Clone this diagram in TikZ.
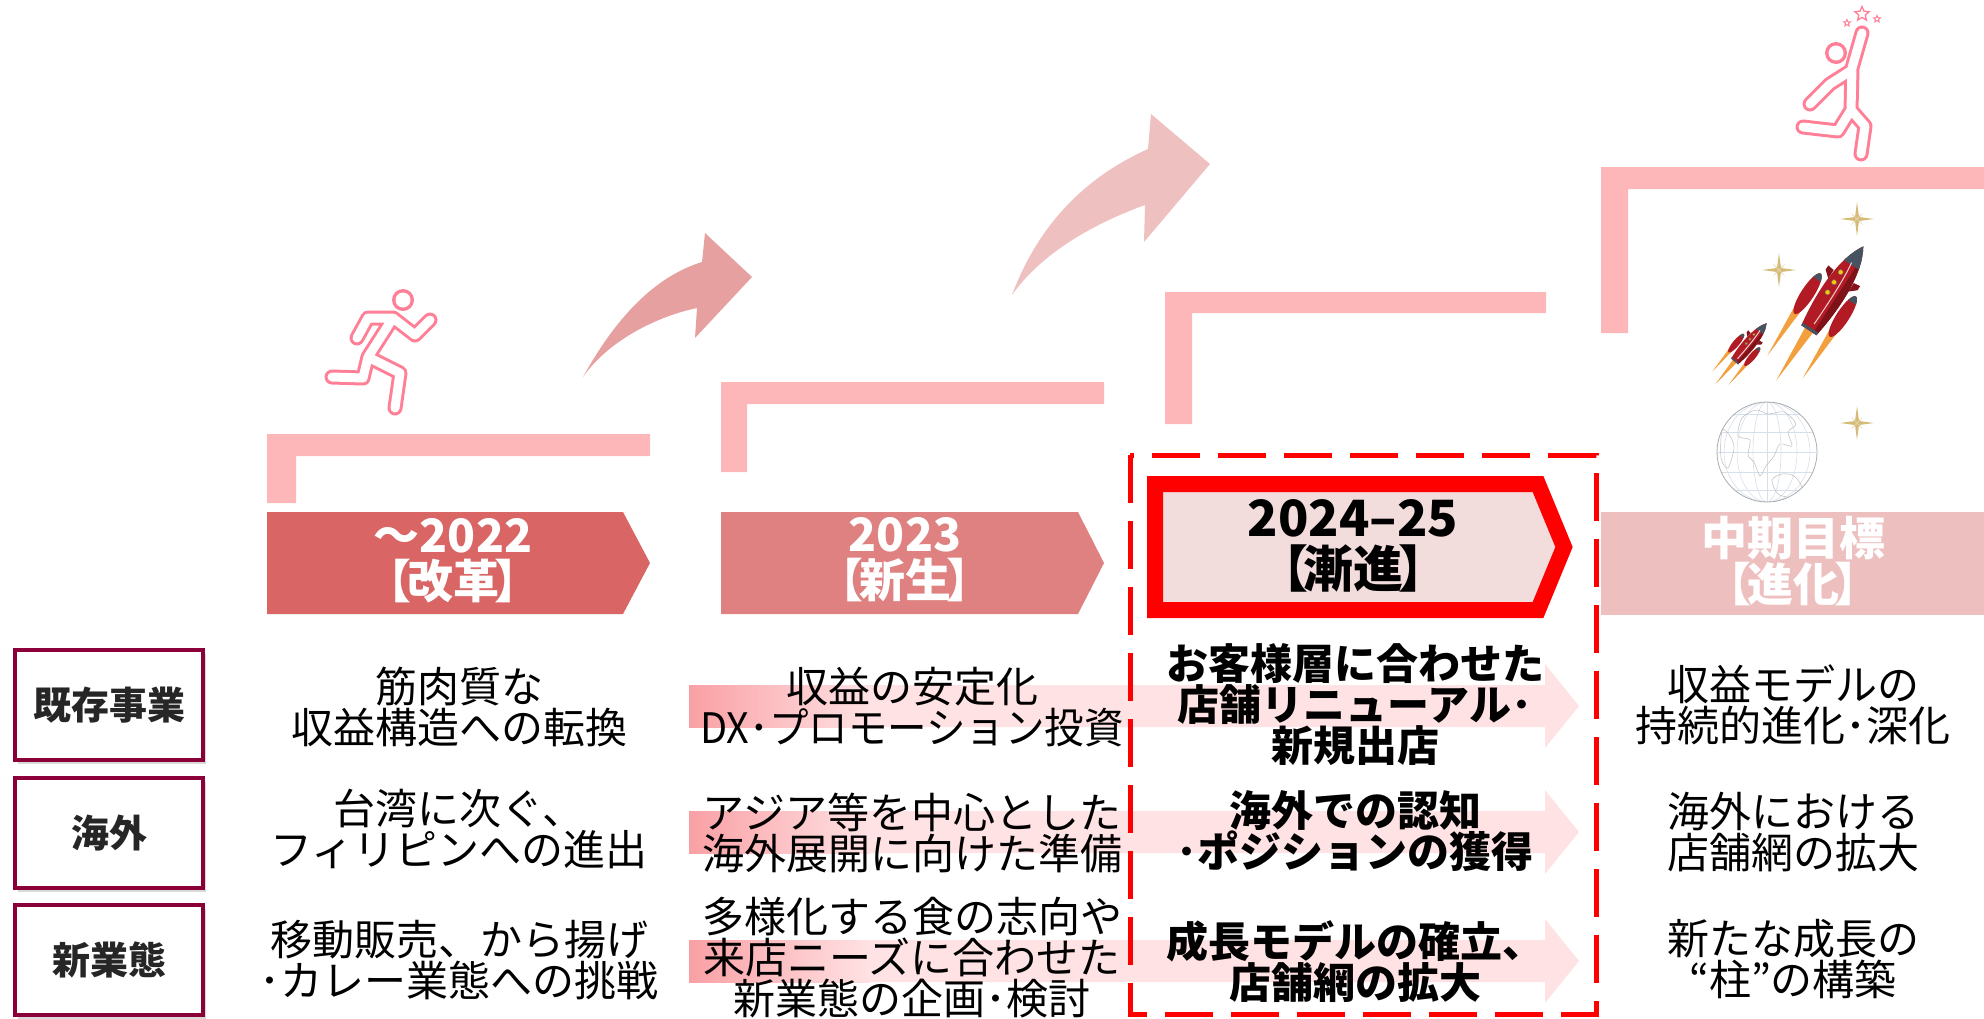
\documentclass[tikz,border=0pt]{standalone}
\usepackage{fontspec}
\setmainfont{Noto Sans CJK JP}
\usetikzlibrary{shadows,shapes.geometric}

\definecolor{escalon}{RGB}{253,183,184}
\definecolor{faseA}{RGB}{217,101,101}
\definecolor{faseB}{RGB}{223,129,129}
\definecolor{faseC}{RGB}{242,220,220}
\definecolor{faseD}{RGB}{237,191,191}
\definecolor{curvaA}{RGB}{230,160,160}
\definecolor{curvaB}{RGB}{238,192,192}
\definecolor{filafuerte}{RGB}{249,160,164}
\definecolor{filaclara}{RGB}{255,226,228}
\definecolor{granate}{RGB}{139,0,56}
\definecolor{neon}{RGB}{255,128,150}
\definecolor{oro}{RGB}{214,186,120}
\definecolor{cohete}{RGB}{178,26,36}
\definecolor{gris}{RGB}{70,84,98}
\definecolor{llama}{RGB}{240,150,40}
\definecolor{globo}{RGB}{214,224,236}

\newcommand\fasenombre[1]{【\kern-.1em#1\kern-.1em】}

\begin{document}
\begin{tikzpicture}[x=1pt, y=-1pt,
  cuerpo/.style={align=center, inner sep=0pt, font=\fontsize{42}{41}\selectfont},
  cuerpobf/.style={cuerpo, font=\fontsize{42}{41}\selectfont\bfseries},
  fase/.style={align=center, inner sep=0pt, font=\fontsize{46}{46}\selectfont\bfseries},
  rotulo/.style={draw=granate, line width=4.5pt, fill=white, minimum width=188pt,
    minimum height=110pt, inner sep=0pt, text=black!85,
    drop shadow={opacity=.3, shadow xshift=3pt, shadow yshift=-4pt},
    font=\fontsize{38}{40}\selectfont\bfseries}]
  \useasboundingbox (0,0) rectangle (1984,1018);

  % Escalones
  \fill[escalon] (267,434) rectangle (650,456) (267,456) rectangle (296,503);
  \fill[escalon] (721,382) rectangle (1104,404) (721,404) rectangle (747,472);
  \fill[escalon] (1165,292) rectangle (1546,313) (1165,313) rectangle (1192,424);
  \fill[escalon] (1601,167) rectangle (1984,189) (1601,189) rectangle (1628,333);

  % Flechas curvas
  \fill[curvaA] (583,377) .. controls (620,310) and (660,275) .. (702,262) -- (705,233)
    -- (752,277) -- (695,338) -- (697,308) .. controls (650,318) and (605,345) .. (583,377) -- cycle;
  \fill[curvaB] (1012,295) .. controls (1040,220) and (1090,175) .. (1148,149) -- (1151,114)
    -- (1210,164) -- (1144,242) -- (1145,205) .. controls (1090,225) and (1040,255) .. (1012,295) -- cycle;

  % Corredores
  \foreach \lw/\rad/\col in {15/11/neon, 9/7.5/white}{
    \fill[\col] (403,300) circle (\rad);
    \draw[\col, line width=\lw pt, line cap=round, line join=round]
      (393,318) -- (368,357)
      (357,338) -- (368,318) -- (393,318) -- (415,335) -- (430,320)
      (332,377) -- (363,378) -- (368,357) -- (400,373) -- (395,408);
    \fill[\col] (1836,53) circle (\rad);
    \draw[\col, line width=\lw pt, line cap=round, line join=round]
      (1862,33) -- (1852,68) -- (1851,110) -- (1865,126) -- (1861,154)
      (1852,70) -- (1830,84) -- (1810,104)
      (1851,110) -- (1838,131) -- (1803,127);
  }
  \node[star, star points=5, star point ratio=2.2, draw=neon, line width=1.3pt,
    minimum size=15pt, inner sep=0pt] (estrella) at (1862,14) {};
  \node[star, star points=5, star point ratio=2.2, draw=neon, line width=1pt,
    minimum size=7pt, inner sep=0pt] (estrellaizq) at (1847,23) {};
  \node[star, star points=5, star point ratio=2.2, draw=neon, line width=1pt,
    minimum size=7pt, inner sep=0pt] (estrellader) at (1877,19) {};

  % Destellos
  \foreach \sx/\sy in {1857/219, 1779/270, 1857/423}{
    \fill[oro] (\sx,\sy-17) -- (\sx+2,\sy-2) -- (\sx+17,\sy) -- (\sx+2,\sy+2)
      -- (\sx,\sy+17) -- (\sx-2,\sy+2) -- (\sx-17,\sy) -- (\sx-2,\sy-2) -- cycle;
    \fill[oro!70] (\sx-6,\sy-6) -- (\sx,\sy-1) -- (\sx+6,\sy-6) -- (\sx+1,\sy)
      -- (\sx+6,\sy+6) -- (\sx,\sy+1) -- (\sx-6,\sy+6) -- (\sx-1,\sy) -- cycle;
  }

  % Globo terraqueo
  \fill[white] (1767,452) circle (50);
  \begin{scope}
    \clip (1767,452) circle (50);
    \foreach \m in {14,30,43}
      \draw[globo, line width=.6pt] (1767,452) ellipse ({\m} and 50);
    \draw[globo, line width=.6pt] (1767,402) -- (1767,502);
    \foreach \p in {-38,-20,0,20,38}
      \draw[globo, line width=.6pt] (1717,452+\p) -- (1817,452+\p);
    \draw[gray!55, line width=.45pt] plot[smooth cycle] coordinates
      {(1742,418) (1756,410) (1768,414) (1784,412) (1796,424) (1788,432) (1792,446)
       (1780,444) (1774,456) (1766,466) (1760,476) (1754,462) (1748,455) (1750,440) (1738,436)};
    \draw[gray!55, line width=.45pt] plot[smooth cycle] coordinates
      {(1772,480) (1782,474) (1794,476) (1802,488) (1792,497) (1778,494)};
    \draw[gray!55, line width=.45pt] plot[smooth cycle] coordinates
      {(1722,430) (1730,436) (1734,448) (1728,468) (1721,458)};
  \end{scope}
  \draw[gray!65, line width=.8pt] (1767,452) circle (50);

  % Cohetes
  \foreach \px/\py/\ang/\esc in {1835/290/57/1, 1750/343/50/0.5}{
    \begin{scope}[shift={(\px,\py)}, rotate=\ang, scale=\esc]
      \fill[llama, opacity=.9] (-44,-5) -- (-108,0) -- (-44,5) -- cycle;
      \fill[llama, opacity=.9] (-36,-25) -- (-92,-21) -- (-36,-17) -- cycle;
      \fill[llama, opacity=.9] (-36,17) -- (-92,21) -- (-36,25) -- cycle;
      \foreach \s in {-1,1}{
        \begin{scope}
          \clip (-18,\s*21) ellipse (24 and 6.5);
          \fill[cohete] (-44,\s*21-8) rectangle (8,\s*21+8);
          \fill[gris] (-1,\s*21-8) rectangle (8,\s*21+8);
        \end{scope}
        \fill[cohete!75!black] (6,\s*12) -- (12,\s*19) -- (17,\s*19) -- (16,\s*12) -- cycle;
      }
      \begin{scope}
        \clip (-48,-9) .. controls (-10,-15) and (30,-14) .. (52,0)
          .. controls (30,14) and (-10,15) .. (-48,9) -- cycle;
        \fill[cohete] (-50,-16) rectangle (54,16);
        \fill[cohete!70!black] (-50,5) rectangle (54,16);
        \fill[gris] (30,-16) rectangle (54,16);
        \fill[gris] (-50,-16) rectangle (-45,16);
      \end{scope}
      \draw[white, line width=1pt, opacity=.8] (-40,1) .. controls (-5,2) and (20,1) .. (32,-1);
      \foreach \wx in {-6,6,18}
        \filldraw[fill=yellow!60!orange, draw=black!60, line width=.5pt] (\wx,-5) circle (2.6);
    \end{scope}
  }

  % Fases
  \fill[faseA] (267,512) -- (623,512) -- (650,563) -- (623,614) -- (267,614) -- cycle;
  \fill[faseB] (721,512) -- (1078,512) -- (1104,563) -- (1078,614) -- (721,614) -- cycle;
  \filldraw[fill=faseC, draw=red, line width=16pt]
    (1155,484) -- (1538,484) -- (1564,547) -- (1538,610) -- (1155,610) -- cycle;
  \fill[faseD] (1601,512) rectangle (1984,615);

  \node[fase, text=white] (f2022) at (453,561) {～2022\\\fasenombre{改革}};
  \node[fase, text=white] (f2023) at (905,560) {2023\\\fasenombre{新生}};
  \node[fase, font=\fontsize{50}{51}\selectfont\bfseries] (f2025) at (1353,546)
    {2024–25\\\fasenombre{漸進}};
  \node[fase, text=white] (fmeta) at (1793,561) {中期目標\\\fasenombre{進化}};

  % Flechas de cada fila
  \foreach \c in {706,832,961}{
    \fill[filaclara] (689,\c-21) -- (1545,\c-21) -- (1545,\c-42) -- (1579,\c)
      -- (1545,\c+42) -- (1545,\c+21) -- (689,\c+21) -- cycle;
    \shade[left color=filafuerte, right color=filaclara] (689,\c-21) rectangle (870,\c+21);
  }

  % Recuadro 2024-25
  \draw[red, line width=5pt, dash pattern=on 48pt off 18pt] (1130,455) rectangle (1596,1014);

  % Rotulos
  \node[rotulo] (existente) at (109,705) {既存事業};
  \node[rotulo] (exterior) at (109,833) {海外};
  \node[rotulo] (nuevo) at (109,960) {新業態};

  % Textos
  \node[cuerpo] (exist2022) at (459,707) {筋肉質な\\収益構造への転換};
  \node[cuerpo] (ext2022) at (459,829) {台湾に次ぐ、\\フィリピンへの進出};
  \node[cuerpo] (nuevo2022) at (459,960) {移動販売、から揚げ\\･カレー業態への挑戦};

  \node[cuerpo] (exist2023) at (912,707) {収益の安定化\\\scalebox{.94}[1]{DX･プロモーション投資}};
  \node[cuerpo] (ext2023) at (912,833) {アジア等を中心とした\\海外展開に向けた準備};
  \node[cuerpo] (nuevo2023) at (912,958) {多様化する食の志向や\\来店ニーズに合わせた\\新業態の企画･検討};

  \node[cuerpobf] (exist2025) at (1355,705) {お客様層に合わせた\\店舗リニューアル･\\新規出店};
  \node[cuerpobf] (ext2025) at (1355,831) {海外での認知\\･ポジションの獲得};
  \node[cuerpobf] (nuevo2025) at (1355,962) {成長モデルの確立、\\店舗網の拡大};

  \node[cuerpo] (existmeta) at (1793,705) {収益モデルの\\持続的進化･深化};
  \node[cuerpo] (extmeta) at (1793,832) {海外における\\店舗網の拡大};
  \node[cuerpo] (nuevometa) at (1793,959) {新たな成長の\\“柱”の構築};
\end{tikzpicture}
\end{document}
